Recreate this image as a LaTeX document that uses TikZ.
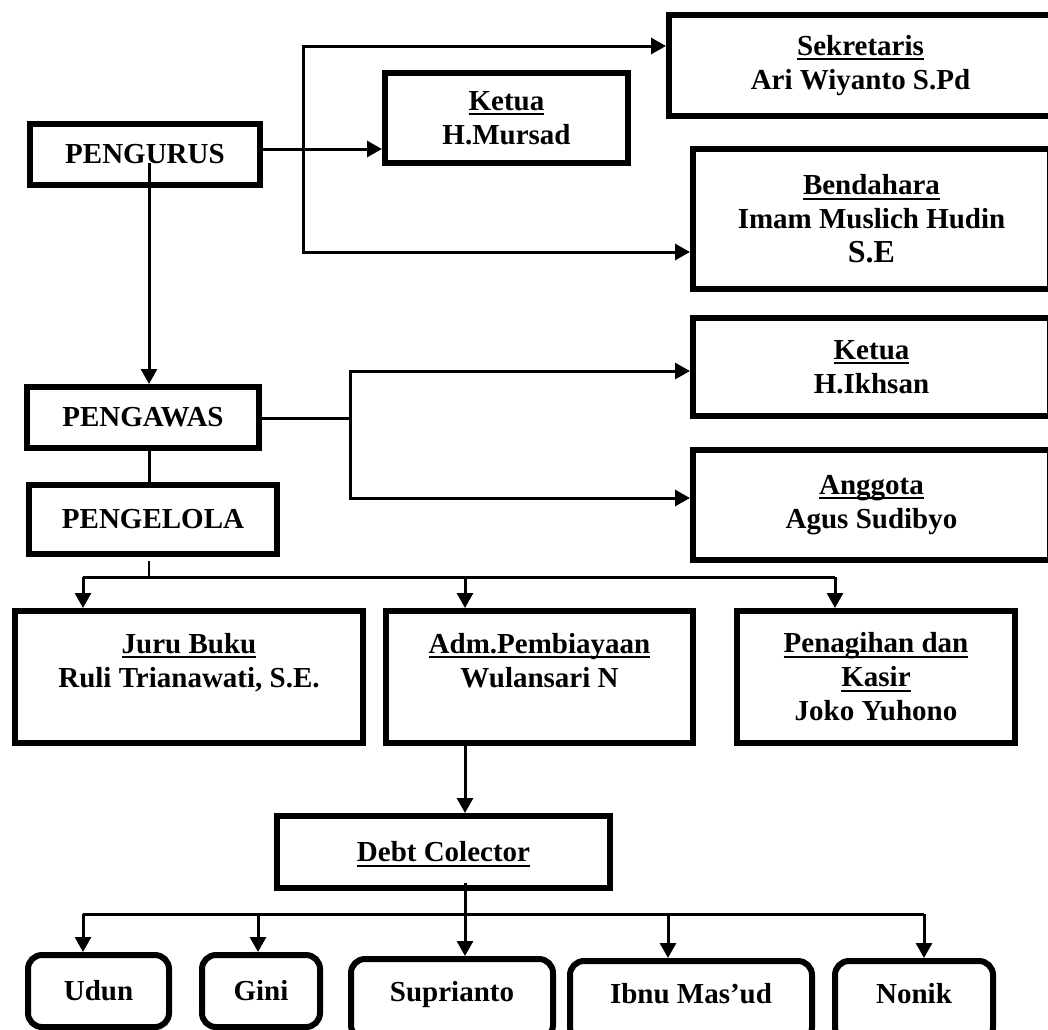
\documentclass[tikz,border=0pt]{standalone}
\usepackage{fontspec}
\setmainfont{Liberation Serif}
\usetikzlibrary{arrows.meta}
\newsavebox\kotakjudul
\newcommand\judul[1]{\sbox\kotakjudul{#1}\rlap{\smash{\rule[-5pt]{\wd\kotakjudul}{2pt}}}\usebox\kotakjudul}

\begin{document}
\begin{tikzpicture}[x=1pt,y=-1pt,
  kotak/.style={draw,line width=6pt,inner sep=0pt,align=center,
    font=\bfseries\fontsize{29}{34}\selectfont},
  kotakbulat/.style={kotak,rounded corners=14pt},
  garis/.style={line width=3pt},
  panah/.style={garis,-{Triangle[length=15pt,width=16pt]}},
  panahdua/.style={garis,line join=miter,
    {Triangle[length=15pt,width=16pt]}-{Triangle[length=15pt,width=16pt]}}]
  \useasboundingbox (0,0) rectangle (1048,1029);

  % pengurus
  \node[kotak,minimum width=230pt,minimum height=61pt] (pengurus) at (145,154.5) {PENGURUS};
  \node[kotak,minimum width=243pt,minimum height=90pt] (ketuaA) at (506.5,118) {\judul{Ketua}\\ H.Mursad};
  \node[kotak,minimum width=383pt,minimum height=101pt] (sekretaris) at (860.5,65.5) {\judul{Sekretaris}\\ Ari Wiyanto S.Pd};
  \node[kotak,minimum width=357pt,minimum height=140pt] (bendahara) at (871.5,219)
    {\judul{Bendahara}\\ Imam Muslich Hudin\\ {\fontsize{32}{36}\selectfont S.E}};

  % pengawas
  \node[kotak,minimum width=232pt,minimum height=61pt] (pengawas) at (143,417.5) {PENGAWAS};
  \node[kotak,minimum width=357pt,minimum height=98pt] (ketuaB) at (871.5,367) {\judul{Ketua}\\ H.Ikhsan};
  \node[kotak,minimum width=357pt,minimum height=110pt] (anggota) at (871.5,505) {\judul{Anggota}\\ Agus Sudibyo};

  % pengelola
  \node[kotak,minimum width=248pt,minimum height=69pt] (pengelola) at (153,519.5) {PENGELOLA};
  \node[kotak,minimum width=348pt,minimum height=132pt] (jurubuku) at (189,677)
    {\judul{Juru Buku}\\ Ruli Trianawati, S.E.\\ \mbox{}};
  \node[kotak,minimum width=307pt,minimum height=132pt] (adm) at (539.5,677)
    {\judul{Adm.Pembiayaan}\\ Wulansari N\\ \mbox{}};
  \node[kotak,minimum width=278pt,minimum height=132pt] (penagihan) at (876,677)
    {\judul{Penagihan dan}\\ \judul{Kasir}\\ Joko Yuhono};
  \node[kotak,minimum width=333pt,minimum height=72pt] (debt) at (443.5,852) {\judul{Debt Colector}};

  % debt colector
  \node[kotakbulat,minimum width=141pt,minimum height=72pt] (udun) at (98.5,991) {Udun};
  \node[kotakbulat,minimum width=118pt,minimum height=72pt] (gini) at (261,991) {Gini};
  \node[kotakbulat,minimum width=202pt,minimum height=80pt,text depth=16pt] (suprianto) at (452,999) {Suprianto};
  \node[kotakbulat,minimum width=242pt,minimum height=80pt,text depth=16pt] (ibnu) at (691,1001) {Ibnu Mas’ud};
  \node[kotakbulat,minimum width=158pt,minimum height=80pt,text depth=16pt] (nonik) at (914,1001) {Nonik};

  \coordinate (tulang) at (149,163);
  \coordinate (yKetua) at (0,149);
  \coordinate (cabangA1) at (303,46);
  \coordinate (cabangA2) at (303,252);
  \coordinate (cabangB0) at (350,418);
  \coordinate (cabangB1) at (350,371);
  \coordinate (cabangB2) at (350,498);
  \coordinate (busKiri) at (83,577);
  \coordinate (busTengah) at (465,577);
  \coordinate (busKanan) at (835,577);
  \coordinate (bus2Kiri) at (83,914);
  \coordinate (bus2Kanan) at (924,914);

  \draw[panah] (pengurus.east |- yKetua) -- (ketuaA.west |- yKetua);
  \draw[panahdua] (sekretaris.west |- cabangA1) -- (cabangA1) -- (cabangA2) -- (bendahara.west |- cabangA2);
  \draw[panah] (tulang) -- (tulang |- pengawas.north);

  \draw[garis] (pengawas.east |- cabangB0) -- (cabangB0);
  \draw[panahdua] (ketuaB.west |- cabangB1) -- (cabangB1) -- (cabangB2) -- (anggota.west |- cabangB2);
  \draw[garis] (tulang |- pengawas.south) -- (tulang |- pengelola.north);

  \draw[line width=1.5pt] ([yshift=-4pt]tulang |- pengelola.south) -- (tulang |- busKiri);
  \draw[garis] (busKiri) -- (busKanan);
  \draw[panah] (busKiri) -- (busKiri |- jurubuku.north);
  \draw[panah] (busTengah) -- (busTengah |- adm.north);
  \draw[panah] (busKanan) -- (busKanan |- penagihan.north);
  \draw[panah] (busTengah |- adm.south) -- (busTengah |- debt.north);

  \draw[panah] ([yshift=8pt]busTengah |- debt.south) -- (busTengah |- suprianto.north);
  \draw[garis] (bus2Kiri) -- (bus2Kanan);
  \foreach \x/\n in {83/udun,258/gini,668/ibnu,924/nonik}
    \draw[panah] (\x,914) -- (\x,914 |- \n.north);
\end{tikzpicture}
\end{document}
